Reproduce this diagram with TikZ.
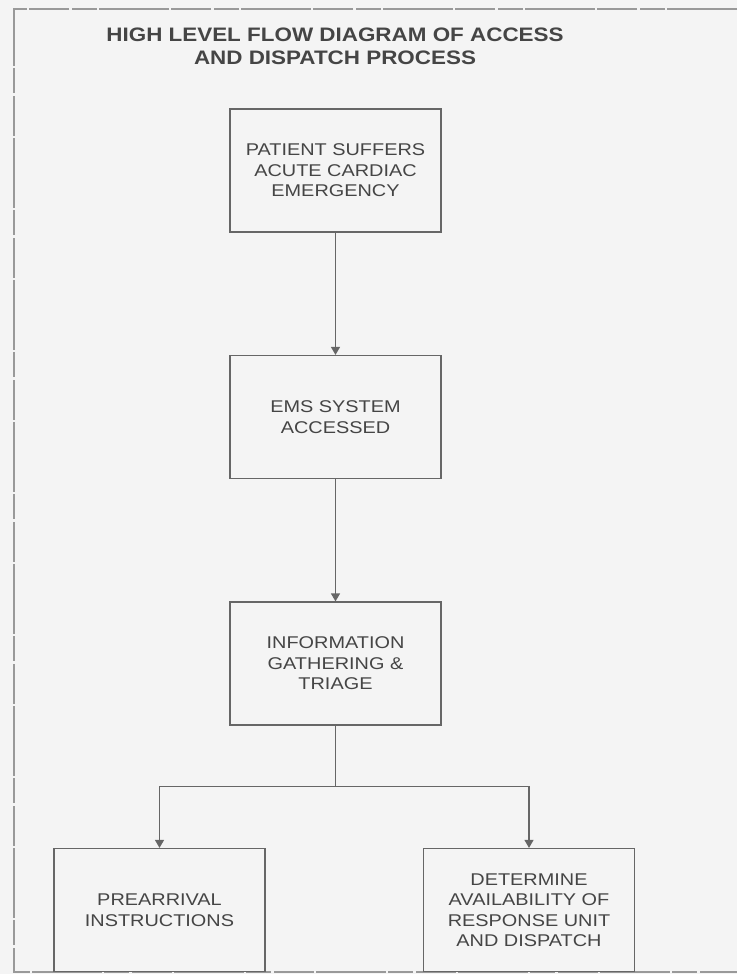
\documentclass[tikz,border=0pt]{standalone}
\usepackage{fontspec}
\usepackage{xcolor}
\usepackage{tikz}
\usetikzlibrary{arrows.meta,positioning}
\newfontfamily\boxfont[FakeStretch=1.17]{Liberation Sans}
\newfontfamily\headfont[FakeStretch=1.15]{Liberation Sans}
\definecolor{paper}{rgb}{0.957,0.957,0.957}
\definecolor{inkgray}{rgb}{0.27,0.27,0.27}
\definecolor{linegray}{rgb}{0.40,0.40,0.40}
\definecolor{framegray}{rgb}{0.60,0.60,0.60}

\begin{document}
\begin{tikzpicture}[
    x=1pt, y=-1pt,
    node distance=122.3pt,
    stepbox/.style={rectangle, draw=linegray, line width=1.2pt, minimum width=211pt,
    minimum height=123pt, inner sep=0pt, align=center, text=inkgray,
    font=\boxfont\fontsize{17pt}{20.5pt}\selectfont},
    headline/.style={align=center, text=inkgray, inner sep=0pt,
    font=\headfont\bfseries\fontsize{19.5pt}{23pt}\selectfont},
    arrow/.style={-{Triangle[width=9pt,length=8pt]}, draw=linegray, line width=1.2pt}
]
\fill[paper] (0,0) rectangle (737,974);
\useasboundingbox (0,0) rectangle (737,974);
\draw[framegray, line width=1.2pt, dash pattern=on 70pt off 2pt on 25pt off 3pt on 40pt off 2pt]
    (737,9) -- (14,9) -- (14,972) -- (737,972);
\node[headline] (title) at (335,46.5) {HIGH LEVEL FLOW DIAGRAM OF ACCESS\\AND DISPATCH PROCESS};
\node[stepbox] (patient) at (335.5,170.5) {PATIENT SUFFERS\\ACUTE CARDIAC\\EMERGENCY};
\node[stepbox, below=of patient] (ems) {EMS SYSTEM\\ACCESSED};
\node[stepbox, below=of ems] (triage) {INFORMATION\\GATHERING \&\\TRIAGE};
\node[stepbox, below=of triage, xshift=-176pt] (prearrival) {PREARRIVAL\\INSTRUCTIONS};
\node[stepbox, below=of triage, xshift=193.5pt] (dispatch) {DETERMINE\\AVAILABILITY OF\\RESPONSE UNIT\\AND DISPATCH};
\coordinate (split) at ([yshift=-61pt]triage.south);
\draw[arrow] (patient) -- (ems);
\draw[arrow] (ems) -- (triage);
\draw[draw=linegray, line width=1.2pt] (triage) -- (split);
\draw[arrow] (split) -| (prearrival);
\draw[arrow] (split) -| (dispatch);
\end{tikzpicture}
\end{document}
